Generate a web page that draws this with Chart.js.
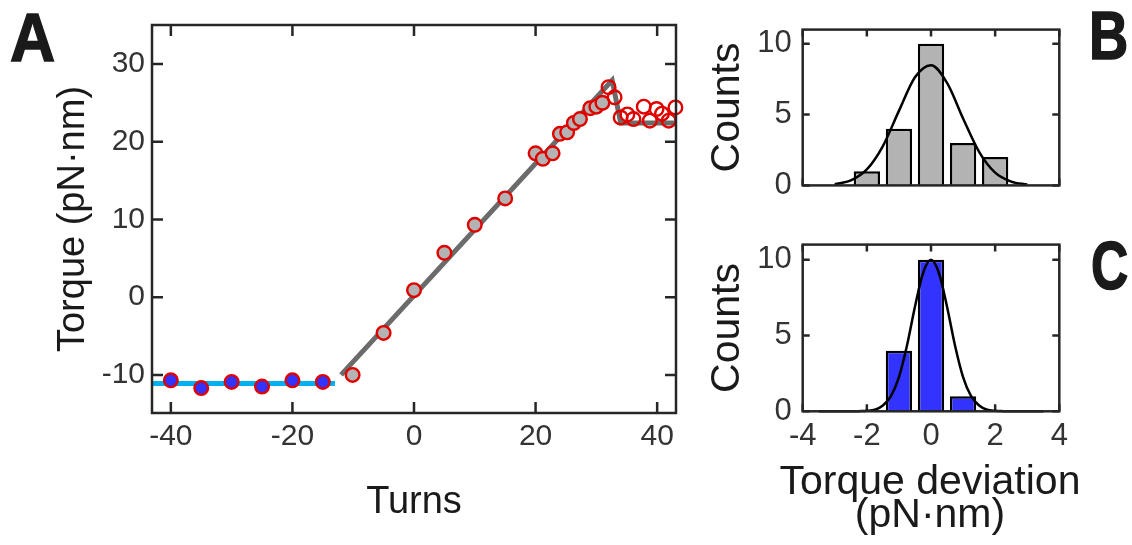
<!DOCTYPE html>
<html lang="en">
<head>
<meta charset="UTF-8">
<title>Torque vs turns</title>
<script src="https://cdn.jsdelivr.net/npm/chart.js"></script>
<style>
  body { margin:0; width:1132px; height:545px; background:#fff; position:relative; overflow:hidden; font-family:'Liberation Sans', Arial, sans-serif; }
  canvas { position:absolute; }
  .letter { position:absolute; font-size:68px; line-height:68px; font-weight:bold; color:#1a1a1a; -webkit-text-stroke:1.5px #1a1a1a; transform-origin:left top; }
  .xlabel { position:absolute; left:760px; width:340px; top:464px; text-align:center; font-size:41px; line-height:33px; color:#1a1a1a; white-space:nowrap; }
</style>
</head>
<body>
<div class="letter" style="left:10px;top:3px;transform:scaleX(0.92)">A</div>
<div class="letter" style="left:1089px;top:1px;transform:scaleX(0.8)">B</div>
<div class="letter" style="left:1091px;top:231px;transform:scaleX(0.76)">C</div>

<canvas id="chartA" width="700" height="545" style="left:0;top:0"></canvas>
<canvas id="chartB" width="400" height="215" style="left:700px;top:0"></canvas>
<canvas id="chartC" width="400" height="330" style="left:700px;top:215px"></canvas>
<div class="xlabel">Torque deviation<br>(pN·nm)</div>

<script>
// --- panel A: torque vs turns ---
const turnsBlue  = [-40, -35, -30, -25, -20, -15];
const torqueBlue = [-10.7, -11.7, -10.9, -11.5, -10.7, -10.9];
const turnsGray  = [-10.1, -5, 0, 5, 10, 15, 20, 21.2, 22.8, 24, 25.2, 26.3, 27.3, 29, 30, 31];
const torqueGray = [-10.0, -4.6, 0.9, 5.7, 9.3, 12.7, 18.5, 17.8, 18.5, 21.0, 21.2, 22.4, 22.9, 24.3, 24.5, 25.0];
const turnsOpen  = [32.0, 33.0, 34.0, 35.1, 36.1, 37.8, 38.8, 39.9, 40.8, 41.9, 43.0];
const torqueOpen = [27.0, 25.7, 23.1, 23.5, 22.9, 24.5, 22.7, 24.2, 23.6, 22.7, 24.4];
const flatFitTurns  = [-43, -13];
const flatFitTorque = [-11.1, -11.1];
const slopeFitTurns  = [-12, 32.6, 34.0, 42.8];
const slopeFitTorque = [-10, 27.9, 22.4, 22.4];
const ticksTurns  = [-40, -20, 0, 20, 40];
const ticksTorque = [-10, 0, 10, 20, 30];

// --- panels B and C: histograms of torque deviation ---
const binCenters = [-2, -1, 0, 1, 2];
const countsB = [1, 4, 10, 3, 2];
const countsC = [0, 4, 10, 1, 0];
const fitXB = [-3, -2.5, -2, -1.5, -1, -0.5, 0, 0.5, 1, 1.5, 2, 2.5, 3];
const fitYB = [0.08, 0.35, 1.13, 2.78, 5.26, 7.63, 8.48, 7.24, 4.73, 2.37, 0.9, 0.27, 0.06];
const fitXC = [-3.5, -3, -2.5, -2.25, -2, -1.75, -1.5, -1.25, -1, -0.75, -0.5, -0.25, 0,
               0.25, 0.5, 0.75, 1, 1.25, 1.5, 1.75, 2, 2.25, 2.5, 3, 3.5];
const fitYC = [0, 0, 0, 0.01, 0.03, 0.1, 0.38, 1.0, 2.26, 4.33, 6.9, 9.11, 10,
               9.11, 6.9, 4.33, 2.26, 1.0, 0.38, 0.1, 0.03, 0.01, 0, 0, 0];
const ticksDev = [-4, -2, 0, 2, 4];
const ticksCounts = [0, 5, 10];

const FONT = "'Liberation Sans', Arial, sans-serif";
const INK = '#262626';
const RED = '#e00000';
const pts = (xs, ys) => xs.map((x, i) => ({x: x, y: ys[i]}));
const fixTicks = vals => s => { s.ticks = vals.map(v => ({value: v})); };

// box round the plot area with inward ticks (matlab style)
const frame = {
  id: 'frame',
  beforeDatasetsDraw(chart, args, opts) {
    const {ctx, chartArea: a, scales: {x, y}} = chart;
    const len = opts.len || 8;
    ctx.save();
    ctx.strokeStyle = INK;
    ctx.lineWidth = 2.5;
    ctx.beginPath();
    x.ticks.forEach(t => {
      const p = x.getPixelForValue(t.value);
      ctx.moveTo(p, a.bottom); ctx.lineTo(p, a.bottom - len);
      ctx.moveTo(p, a.top); ctx.lineTo(p, a.top + len);
    });
    y.ticks.forEach(t => {
      const p = y.getPixelForValue(t.value);
      ctx.moveTo(a.left, p); ctx.lineTo(a.left + len, p);
      ctx.moveTo(a.right, p); ctx.lineTo(a.right - len, p);
    });
    ctx.stroke();
    ctx.restore();
  },
  afterDatasetsDraw(chart) {
    const {ctx, chartArea: a} = chart;
    ctx.save();
    ctx.strokeStyle = INK;
    ctx.lineWidth = 2.5;
    ctx.strokeRect(a.left, a.top, a.right - a.left, a.bottom - a.top);
    ctx.restore();
  }
};
Chart.register(frame);

const tickFont = size => ({family: FONT, size: size});

new Chart(document.getElementById('chartA'), {
  type: 'scatter',
  data: {
    datasets: [
      { type: 'line', data: pts(flatFitTurns, flatFitTorque), borderColor: '#00b0ef', borderWidth: 5,
        pointRadius: 0, order: 2, clip: false },
      { type: 'line', data: pts(slopeFitTurns, slopeFitTorque), borderColor: '#6b6b6b', borderWidth: 5,
        pointRadius: 0, order: 2, clip: false },
      { data: pts(turnsBlue, torqueBlue), backgroundColor: '#3333ff', borderColor: RED,
        pointRadius: 6.8, borderWidth: 2.4, order: 1, clip: false },
      { data: pts(turnsGray, torqueGray), backgroundColor: '#b3b3b3', borderColor: RED,
        pointRadius: 6.8, borderWidth: 2.4, order: 1, clip: false },
      { data: pts(turnsOpen, torqueOpen), backgroundColor: 'rgba(0,0,0,0)', borderColor: RED,
        pointRadius: 6.8, borderWidth: 2.4, order: 0, clip: false }
    ]
  },
  options: {
    responsive: false, animation: false,
    layout: { padding: { top: 15, right: 24, left: 0, bottom: 0 } },
    plugins: { legend: { display: false }, tooltip: { enabled: false }, frame: { len: 11 } },
    scales: {
      x: {
        type: 'linear', min: -43.1, max: 43.1,
        grid: { display: false, drawTicks: false }, border: { display: false },
        ticks: { font: tickFont(30), color: '#333', padding: 5.7, maxRotation: 0, autoSkip: false },
        title: { display: true, text: 'Turns', color: '#1a1a1a', font: { family: FONT, size: 38 },
                 padding: { top: 0, bottom: 20 } },
        afterBuildTicks: fixTicks(ticksTurns),
        afterFit: s => { s.height = 132; }
      },
      y: {
        min: -14.9, max: 35.0,
        grid: { display: false, drawTicks: false }, border: { display: false },
        ticks: { font: tickFont(30), color: '#333', padding: 7 },
        title: { display: true, text: 'Torque (pN·nm)', color: '#1a1a1a', font: { family: FONT, size: 38 },
                 padding: { top: 51, bottom: 0 } },
        afterBuildTicks: fixTicks(ticksTorque),
        afterFit: s => { s.width = 152; }
      }
    }
  }
});

function histChart(id, counts, fitX, fitY, fill, showX, xHeight) {
  return new Chart(document.getElementById(id), {
    type: 'bar',
    data: {
      datasets: [
        { type: 'line', data: pts(fitX, fitY), borderColor: '#000', borderWidth: 2.5, pointRadius: 0,
          cubicInterpolationMode: 'monotone', order: 0, clip: false },
        { data: pts(binCenters, counts.map(c => c > 0 ? c : null)), backgroundColor: fill,
          borderColor: '#000', borderWidth: 2.5, barPercentage: 0.82, categoryPercentage: 1, order: 1 }
      ]
    },
    options: {
      responsive: false, animation: false,
      layout: { padding: { top: 15, right: 40.7, left: 0, bottom: 0 } },
      plugins: { legend: { display: false }, tooltip: { enabled: false }, frame: { len: 7 } },
      scales: {
        x: {
          type: 'linear', min: -4, max: 4, offset: false,
          grid: { display: false, drawTicks: false }, border: { display: false },
          ticks: { display: showX, font: tickFont(31), color: '#333', padding: 6.9, maxRotation: 0, autoSkip: false },
          afterBuildTicks: fixTicks(ticksDev),
          afterFit: s => { s.height = xHeight; }
        },
        y: {
          min: 0, max: 11,
          grid: { display: false, drawTicks: false }, border: { display: false },
          ticks: { font: tickFont(31), color: '#333', padding: 11 },
          title: { display: true, text: 'Counts', color: '#1a1a1a', font: { family: FONT, size: 41 },
                   padding: { top: 3, bottom: 0 } },
          afterBuildTicks: fixTicks(ticksCounts),
          afterFit: s => { s.width = 102.7; }
        }
      }
    }
  });
}

histChart('chartB', countsB, fitXB, fitYB, '#b3b3b3', false, 18.3);
histChart('chartC', countsC, fitXC, fitYC, '#3333ff', true, 133.7);
</script>
</body>
</html>
